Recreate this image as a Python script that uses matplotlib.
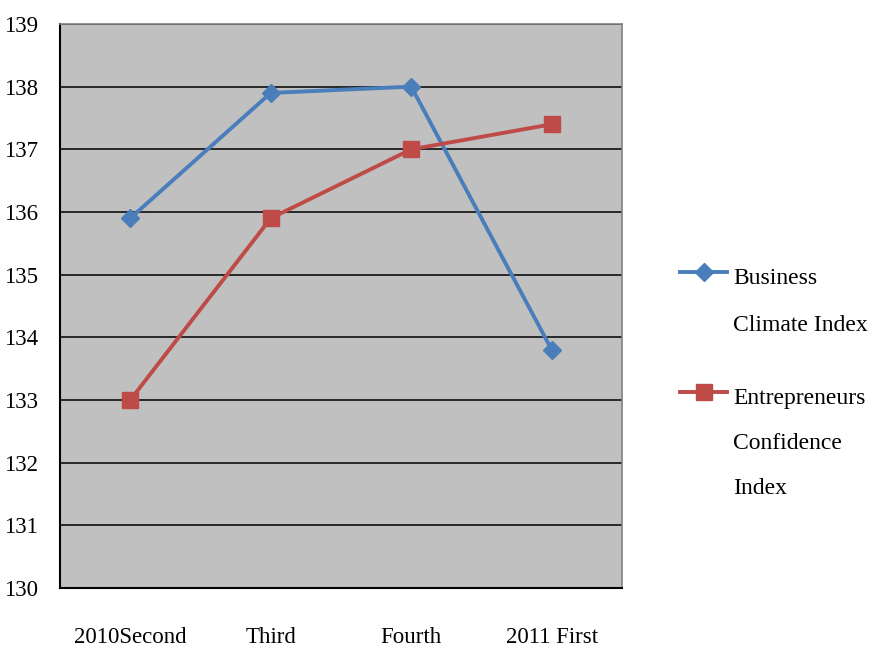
import matplotlib
matplotlib.use("Agg")
from matplotlib import pyplot as plt
from matplotlib.lines import Line2D
import numpy as np

quarters = ['2010Second', 'Third', 'Fourth', '2011 First']
business = [135.9, 137.9, 138.0, 133.8]
entrepreneurs = [133.0, 135.9, 137.0, 137.4]
yticks = np.arange(130, 140, 1)

blue = '#4A7EBB'
red = '#BE4B48'

plt.rcParams['font.family'] = ['Liberation Serif']

fig = plt.figure(figsize=(8.78, 6.49), dpi=100)
ax = fig.add_axes([60/878, 61/649, 562/878, 564/649])
ax.set_facecolor('#C0C0C0')

x = np.arange(len(quarters))
ax.plot(x, business, color=blue, lw=2.8, marker='D', ms=9.5, mfc=blue, mec=blue)
ax.plot(x, entrepreneurs, color=red, lw=2.8, marker='s', ms=12, mfc=red, mec=red)

ax.set_xlim(-0.5, 3.5)
ax.set_ylim(130, 139)
ax.set_yticks(yticks)
ax.set_xticks(x)
ax.set_xticklabels(quarters)
ax.grid(axis='y', color='black', lw=1.1)
ax.set_axisbelow(True)
ax.tick_params(length=0, labelsize=16.5)
ax.tick_params(axis='y', pad=16)
ax.tick_params(axis='x', pad=28)
for s in ['top', 'right']:
    ax.spines[s].set_color('#808080')
    ax.spines[s].set_linewidth(1.2)
for s in ['left', 'bottom']:
    ax.spines[s].set_color('black')
    ax.spines[s].set_linewidth(1.5)

# legend drawn by hand (first line of text aligned with the handle)
def legend_entry(y, color, marker, ms, text, spacing):
    fig.add_artist(Line2D([680/878, 727/878], [1 - y/649] * 2, transform=fig.transFigure,
                          color=color, lw=2.8))
    fig.add_artist(Line2D([704/878], [1 - y/649], transform=fig.transFigure,
                          color=color, marker=marker, ms=ms, mfc=color, mec=color))
    fig.text(733/878, 1 - (y - 4)/649, text, fontsize=17, va='top', ha='left',
             linespacing=spacing)

legend_entry(272, blue, 'D', 9.5, 'Business\nClimate Index', 2.6)
legend_entry(392, red, 's', 12, 'Entrepreneurs\nConfidence\nIndex', 2.5)

plt.savefig('out.png', dpi=100)
